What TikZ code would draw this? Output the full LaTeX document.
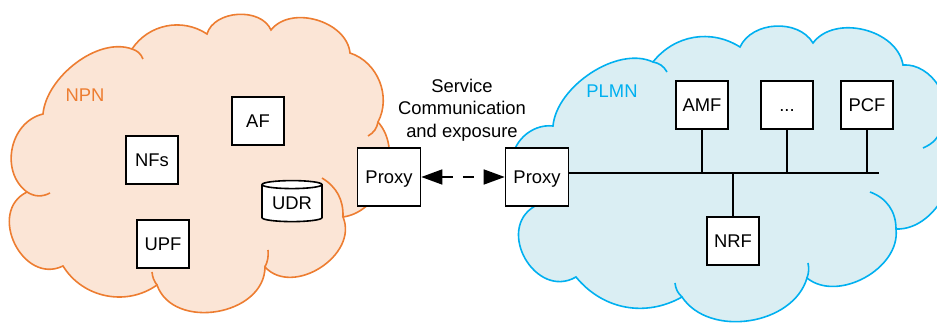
\documentclass[tikz,border=0pt]{standalone}
\usepackage{fontspec}
\setmainfont{Liberation Sans}
\usepackage{tikz}
\usetikzlibrary{shapes.geometric}
\usetikzlibrary{arrows.meta}

\definecolor{npnline}{HTML}{ED7D31}
\definecolor{npnfill}{HTML}{FBE5D6}
\definecolor{plmnline}{HTML}{00B0F0}
\definecolor{plmnfill}{HTML}{DAEEF3}

\begin{document}
\begin{tikzpicture}[x=0.5pt, y=0.5pt,
    font=\fontsize{9.2}{11.3}\selectfont,
    nf/.style={draw, line width=0.8pt, fill=white, minimum width=26pt, minimum height=24pt, inner sep=0pt,
        text height=6.6pt, text depth=0pt},
    proxy/.style={nf, minimum width=31.5pt, minimum height=29pt},
    store/.style={draw, line width=0.8pt, fill=white, cylinder, shape border rotate=90, aspect=0.2,
        minimum width=30pt, minimum height=20.5pt, inner sep=0pt},
    npn/.style={draw=npnline, fill=npnfill, line width=0.8pt},
    plmn/.style={draw=plmnline, fill=plmnfill, line width=0.8pt},
    npn arc/.style={draw=npnline, line width=0.8pt},
    plmn arc/.style={draw=plmnline, line width=0.8pt},
    bus/.style={draw, line width=0.8pt},
    link/.style={draw, line width=0.8pt, dash pattern=on 5.5pt off 5pt,
        >={Triangle[length=10.5pt, width=7.5pt]}, <->}]

\useasboundingbox (0,0) rectangle (937,-325);

% NPN cloud
\path [npn] (43,-114) to[out=85,in=160,looseness=0.85] (132,-49) to[bend left=45] (207,-34)
    to[bend left=70] (271,-30) to[bend left=68] (350,-53) to[bend left=50] (378,-122)
    to[bend left=62] (343,-217) to[bend left=80,looseness=1.14] (265,-267)
    to[bend left=80,looseness=1.14] (157,-285) to[bend left=47] (63,-266)
    to[bend left=90,looseness=1.4] (27,-192) to[bend left=65,looseness=1.1] (43,-114) -- cycle;
\draw [npn arc] (132,-49) to[bend left=25] (143,-59);
\draw [npn arc] (378,-122) to[bend left=25] (368,-136);
\draw [npn arc] (343,-217) to[bend right=30] (322,-178);
\draw [npn arc] (265,-267) to[bend right=15] (268,-250);
\draw [npn arc] (157,-285) to[bend left=15] (152,-272);
\draw [npn arc] (27,-192) to[bend right=30] (50,-193);

% PLMN cloud
\path [plmn] (512,-165) to[bend left=50] (553,-126) to[out=85,in=155,looseness=0.85] (653,-62)
    to[bend left=42] (740,-47) to[bend left=62] (813,-43) to[bend left=67] (903,-65)
    to[bend left=62] (942,-127) to[bend left=68] (896,-229) to[bend left=68] (807,-278)
    to[bend left=65] (682,-297) to[bend left=40] (576,-277)
    to[bend left=90,looseness=1.45] (535,-206) to[bend left=40] (512,-165) -- cycle;
\draw [plmn arc] (653,-62) to[bend left=25] (667,-72);
\draw [plmn arc] (942,-127) to[bend left=25] (923,-148);
\draw [plmn arc] (896,-229) to[bend right=35] (870,-192);
\draw [plmn arc] (807,-278) to[bend right=15] (808,-263);
\draw [plmn arc] (682,-297) to[bend left=20] (675,-283);

\node [text=npnline] (npnlabel) at (85,-95) {NPN};
\node [text=plmnline] (plmnlabel) at (612,-91) {PLMN};

% network functions
\node [nf] (af) at (258,-121) {AF};
\node [nf] (nfs) at (152,-160) {NFs};
\node [nf] (upf) at (163,-244) {UPF};
\node [store] (udr) at (292,-203.5) {UDR};
\node [proxy] (proxyl) at (389,-177) {Proxy};
\node [proxy] (proxyr) at (537,-177) {Proxy};
\node [nf] (amf) at (702,-105) {AMF};
\node [nf] (more) at (787,-105) {...};
\node [nf] (pcf) at (867,-105) {PCF};
\node [nf] (nrf) at (733,-241) {NRF};
\node [align=center] (sce) at (462,-110) {Service\\Communication\\and exposure};

% links
\draw [link] (proxyl) -- (proxyr);
\coordinate (busend) at (879,-173);
\draw [bus] (proxyr.east |- busend) -- (busend);
\draw [bus] (amf) -- (amf |- busend);
\draw [bus] (more) -- (more |- busend);
\draw [bus] (pcf) -- (pcf |- busend);
\draw [bus] (nrf) -- (nrf |- busend);
\end{tikzpicture}
\end{document}
